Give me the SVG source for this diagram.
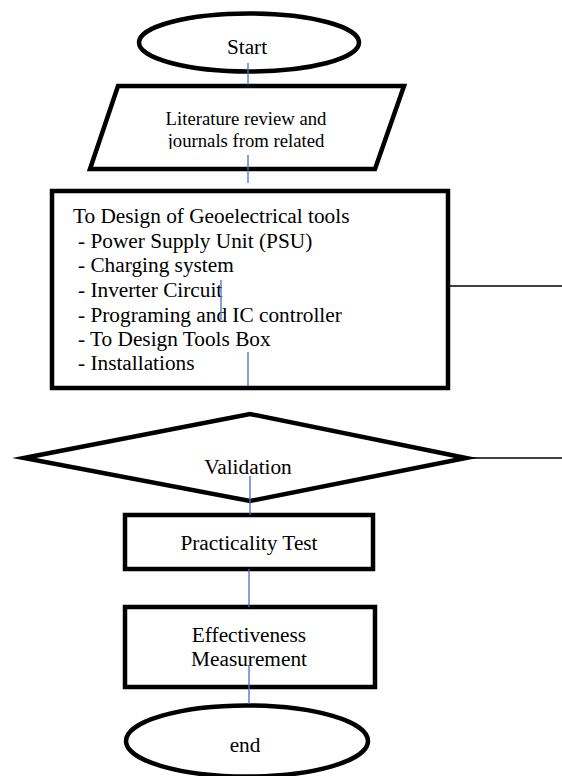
<svg xmlns="http://www.w3.org/2000/svg" width="562" height="776" viewBox="0 0 562 776">
<style>
.shape{fill:#fff;stroke:#000;stroke-width:4.5;stroke-miterlimit:10}
.t{font-family:"Liberation Serif","Times New Roman",serif;font-size:21.3px;fill:#000}
.ts{font-family:"Liberation Serif","Times New Roman",serif;font-size:18.7px;fill:#000}
.blue{stroke:#4472c4;stroke-width:1.3;fill:none}
.thin{stroke:#000;stroke-width:1.6;fill:none}
</style>
<defs>
<clipPath id="litclip"><rect x="90" y="100" width="300" height="49"/></clipPath>
</defs>
<rect width="562" height="776" fill="#fff"/>
<g id="start">
<ellipse class="shape" cx="249" cy="42.5" rx="110" ry="29"/>
<text class="t" x="247" y="54" text-anchor="middle">Start</text>
</g>
<g id="literature">
<polygon class="shape" points="118,86 404,86 375,169 90,169"/>
<g clip-path="url(#litclip)">
<text class="ts" x="246" y="125" text-anchor="middle">Literature review and</text>
<text class="ts" x="246" y="147" text-anchor="middle">journals from related</text>
</g>
</g>
<g id="design">
<rect class="shape" x="52" y="191" width="396" height="197"/>
<text class="t" x="73" y="223">To Design of Geoelectrical tools</text>
<text class="t" x="78" y="248">- Power Supply Unit (PSU)</text>
<text class="t" x="78" y="272">- Charging system</text>
<text class="t" x="78" y="297">- Inverter Circuit</text>
<text class="t" x="78" y="322">- Programing and IC controller</text>
<text class="t" x="78" y="346">- To Design Tools Box</text>
<text class="t" x="78" y="370">- Installations</text>
</g>
<g id="validation">
<polygon class="shape" points="24,458 250,414 466,458 250,501"/>
<text class="t" x="248" y="474" text-anchor="middle">Validation</text>
</g>
<g id="practicality">
<rect class="shape" x="125" y="515" width="248" height="54"/>
<text class="t" x="249" y="550" text-anchor="middle">Practicality Test</text>
</g>
<g id="effectiveness">
<rect class="shape" x="125" y="607" width="250" height="80"/>
<text class="t" x="249" y="642" text-anchor="middle">Effectiveness</text>
<text class="t" x="249" y="666" text-anchor="middle">Measurement</text>
</g>
<g id="end">
<ellipse class="shape" cx="247" cy="741" rx="121" ry="35.5"/>
<text class="t" x="245" y="752" text-anchor="middle">end</text>
</g>
<g id="connectors">
<line class="blue" x1="248" y1="63" x2="248" y2="85"/>
<line class="blue" x1="248" y1="155" x2="248" y2="183"/>
<line class="blue" x1="221" y1="280" x2="221" y2="320"/>
<line class="blue" x1="248" y1="352" x2="248" y2="386"/>
<line class="blue" x1="250" y1="476" x2="250" y2="515"/>
<line class="blue" x1="249" y1="569" x2="249" y2="607"/>
<line class="blue" x1="249" y1="665" x2="249" y2="704"/>
<line class="thin" x1="448" y1="286" x2="562" y2="286"/>
<line class="thin" x1="466" y1="458" x2="562" y2="458"/>
</g>
</svg>
